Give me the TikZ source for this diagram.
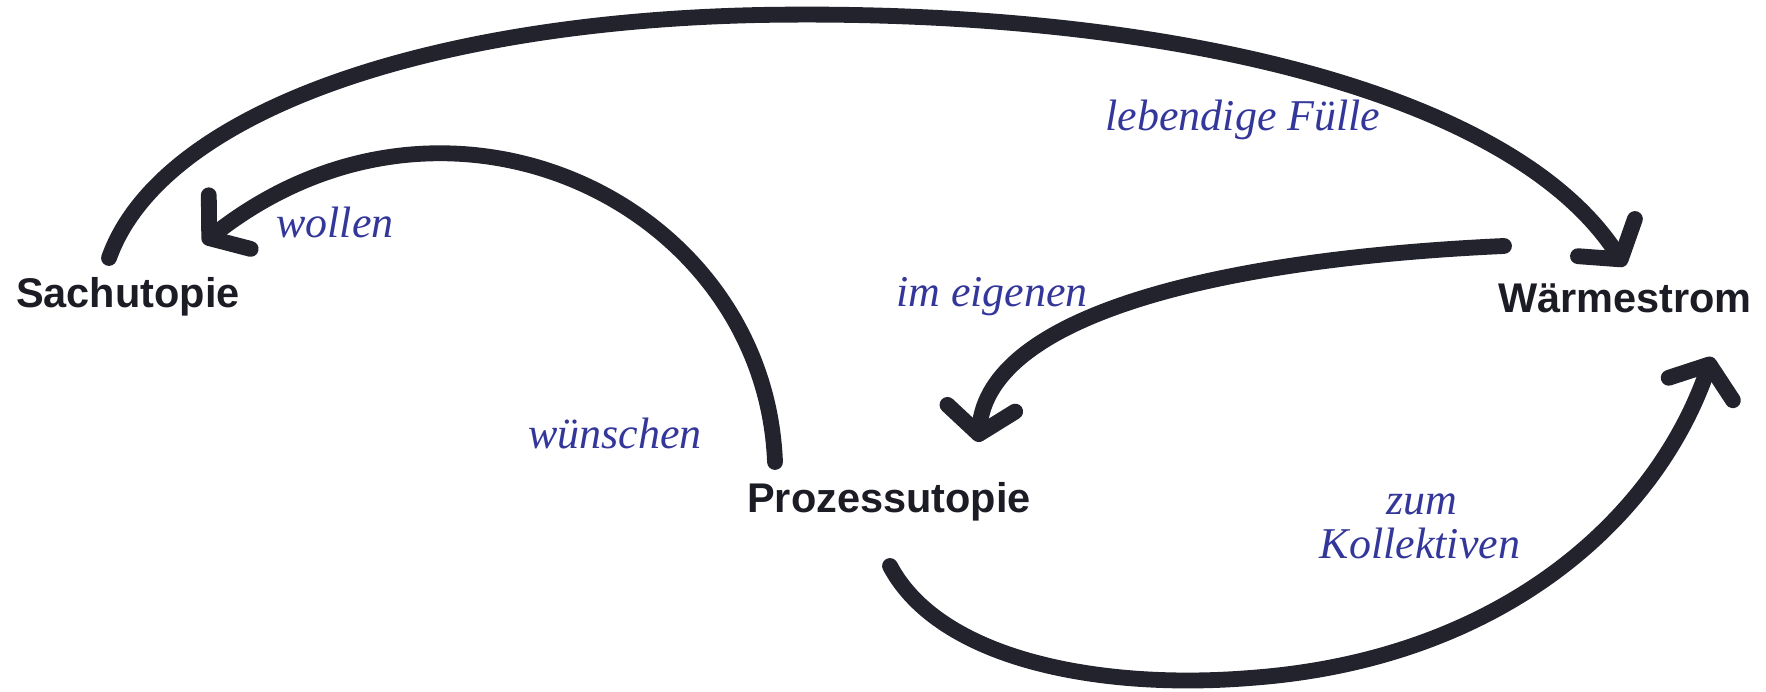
\documentclass[tikz,border=0pt]{standalone}
\usepackage{fontspec}
\setmainfont{Liberation Sans}
\newfontfamily\handfont{Liberation Serif}
\usetikzlibrary{arrows.meta}
\definecolor{ink}{HTML}{23232E}
\definecolor{pen}{HTML}{34379A}
\tikzset{
  concept/.style={font=\fontsize{11.8pt}{13pt}\selectfont\bfseries, text=ink!80!black, inner sep=0pt, anchor=base},
  hand/.style={font=\handfont\itshape\fontsize{12.5pt}{14pt}\selectfont, text=pen, inner sep=0pt},
  marker/.style={draw=ink, line width=4.5pt, line cap=round, line join=round,
    -{Straight Barb[length=0.26cm, width=0.68cm, line cap=round, line join=round]}}
}
\begin{document}
\begin{tikzpicture}[x=0.01cm, y=-0.01cm]
\path[use as bounding box, fill=white] (0,0) rectangle (1766,692);

\node[concept] (sach) at (128,308) {Sachutopie};
\node[concept] (waerme) at (1625,313) {Wärmestrom};
\node[concept] (prozess) at (889,513) {Prozessutopie};

\coordinate (a1s) at (109,258);
\coordinate (a1m) at (760,15);
\coordinate (a1e) at (1625,266);
\coordinate (a2s) at (775,462);
\coordinate (a2e) at (203,243);
\coordinate (a3s) at (1504,246);
\coordinate (a3e) at (978,442);
\coordinate (a4s) at (890,566);
\coordinate (a4m) at (1250,678);
\coordinate (a4e) at (1712,357);

\draw[marker] (a1s) .. controls (160,115) and (420,22) .. (a1m) .. controls (1160,8) and (1510,90) .. (a1e);
\draw[marker] (a2s) .. controls (765,205) and (450,50) .. (a2e);
\draw[marker] (a3s) .. controls (1200,260) and (990,320) .. (a3e);
\draw[marker] (a4s) .. controls (940,660) and (1100,690) .. (a4m) .. controls (1500,660) and (1655,520) .. (a4e);

\node[hand] (l1) at (1243,120) {lebendige Fülle};
\node[hand] (l2) at (335,222) {wollen};
\node[hand] (l3) at (992,297) {im eigenen};
\node[hand] (l4) at (615,434) {wünschen};
\node[hand] (l5) at (1422,504) {zum};
\node[hand] (l6) at (1420,543) {Kollektiven};
\end{tikzpicture}
\end{document}
